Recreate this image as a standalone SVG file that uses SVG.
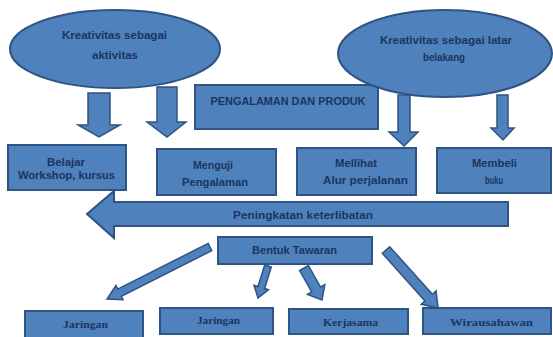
<svg xmlns="http://www.w3.org/2000/svg" width="553" height="337" viewBox="0 0 553 337">
<style>
.shape{fill:#4f81bd;stroke:#2f5383;stroke-width:2}
.arrow{fill:#4f81bd;stroke:#2f5383;stroke-width:1.5;stroke-linejoin:miter}
.t{font-family:"Liberation Sans",Arial,sans-serif;font-size:10px;font-weight:bold;fill:#1b3560;text-anchor:middle}
.s{font-family:"Liberation Serif","Times New Roman",serif;font-size:11px;font-weight:bold;fill:#1b3560;text-anchor:middle}
</style>
<rect width="553" height="337" fill="#ffffff"/>
<g id="pengalaman">
<rect class="shape" x="195" y="85" width="183" height="44"/>
<text class="t" x="288" y="105" textLength="155" lengthAdjust="spacingAndGlyphs">PENGALAMAN DAN PRODUK</text>
</g>
<g id="aktivitas">
<ellipse class="shape" cx="115" cy="49" rx="105" ry="39"/>
<text class="t" x="114.5" y="38.5" textLength="105" lengthAdjust="spacingAndGlyphs">Kreativitas sebagai</text>
<text class="t" x="115" y="58.5" textLength="46" lengthAdjust="spacingAndGlyphs">aktivitas</text>
</g>
<g id="latar">
<ellipse class="shape" cx="445" cy="53.5" rx="107" ry="43.5"/>
<text class="t" x="446" y="43.5" textLength="132" lengthAdjust="spacingAndGlyphs">Kreativitas sebagai latar</text>
<text class="t" x="444" y="60.5" textLength="42" lengthAdjust="spacingAndGlyphs">belakang</text>
</g>
<g id="belajar">
<rect class="shape" x="8" y="145" width="118" height="45"/>
<text class="t" x="66" y="165.5" textLength="38" lengthAdjust="spacingAndGlyphs">Belajar</text>
<text class="t" x="66.5" y="178.5" textLength="97" lengthAdjust="spacingAndGlyphs">Workshop, kursus</text>
</g>
<g id="menguji">
<rect class="shape" x="157" y="149" width="119" height="46"/>
<text class="t" x="213" y="168.5" textLength="40" lengthAdjust="spacingAndGlyphs">Menguji</text>
<text class="t" x="215" y="185.5" textLength="66" lengthAdjust="spacingAndGlyphs">Pengalaman</text>
</g>
<g id="melihat">
<rect class="shape" x="297" y="148" width="119" height="47"/>
<text class="t" x="356" y="166.5" textLength="42" lengthAdjust="spacingAndGlyphs">Mellihat</text>
<text class="t" x="365.5" y="183.5" textLength="85" lengthAdjust="spacingAndGlyphs">Alur perjalanan</text>
</g>
<g id="membeli">
<rect class="shape" x="437" y="148" width="114" height="45"/>
<text class="t" x="494.5" y="166.5" textLength="45" lengthAdjust="spacingAndGlyphs">Membeli</text>
<text class="t" x="494" y="183.5" textLength="18" lengthAdjust="spacingAndGlyphs">buku</text>
</g>
<g id="keterlibatan">
<path class="shape" d="M87,214 L114,191 L114,202 L508,202 L508,226 L114,226 L114,238 Z"/>
<text class="t" x="303" y="218.5" textLength="140" lengthAdjust="spacingAndGlyphs">Peningkatan keterlibatan</text>
</g>
<g id="tawaran">
<rect class="shape" x="218" y="237" width="154" height="27"/>
<text class="t" x="294.5" y="253.5" textLength="85" lengthAdjust="spacingAndGlyphs">Bentuk Tawaran</text>
</g>
<g id="jaringan1">
<rect class="shape" x="25" y="311" width="118" height="28"/>
<text class="s" x="85.5" y="327.5" textLength="45" lengthAdjust="spacingAndGlyphs">Jaringan</text>
</g>
<g id="jaringan2">
<rect class="shape" x="160" y="308" width="113" height="26"/>
<text class="s" x="218.5" y="323.5" textLength="43" lengthAdjust="spacingAndGlyphs">Jaringan</text>
</g>
<g id="kerjasama">
<rect class="shape" x="289" y="309" width="119" height="25"/>
<text class="s" x="350.5" y="325.5" textLength="55" lengthAdjust="spacingAndGlyphs">Kerjasama</text>
</g>
<g id="wirausahawan">
<rect class="shape" x="423" y="308" width="128" height="26"/>
<text class="s" x="491.5" y="325.5" textLength="83" lengthAdjust="spacingAndGlyphs">Wirausahawan</text>
</g>
<g id="connectors">
<path class="arrow" d="M88,93 L110,93 L110,125 L120,125 L99,137 L78,125 L88,125 Z"/>
<path class="arrow" d="M157,87 L177,87 L177,122 L186,122 L167,137 L147,122 L157,122 Z"/>
<path class="arrow" d="M398,95 L410,95 L410,132 L418,132 L404,146 L389,132 L398,132 Z"/>
<path class="arrow" d="M497,95 L508,95 L508,128 L514,128 L503,140 L491,128 L497,128 Z"/>
<path class="arrow" d="M208.2,243.4 L117.7,289.1 L115.9,285.6 L107,299 L123.1,299.8 L121.3,296.3 L211.8,250.6 Z"/>
<path class="arrow" d="M264.7,265 L258,286.5 L254.1,285.3 L258,298 L268.5,289.7 L264.6,288.5 L271.3,267 Z"/>
<path class="arrow" d="M299.6,270.5 L311.7,292 L307.4,294.4 L322,300 L324.8,284.6 L320.5,287 L308.4,265.5 Z"/>
<path class="arrow" d="M382.3,253.3 L425,300.9 L421.3,304.3 L438,308 L436.1,290.9 L432.4,294.3 L389.7,246.7 Z"/>
</g>
</svg>
